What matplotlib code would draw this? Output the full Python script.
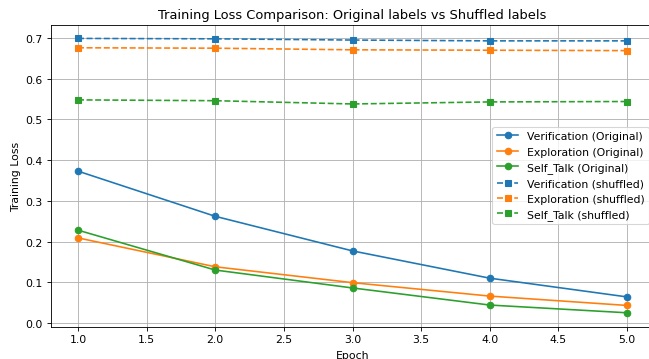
import matplotlib
matplotlib.use('Agg')
import matplotlib.pyplot as plt

epochs = [1, 2, 3, 4, 5]

verification_orig = [0.373, 0.262, 0.177, 0.110, 0.064]
exploration_orig  = [0.209, 0.138, 0.099, 0.066, 0.043]
self_talk_orig    = [0.228, 0.130, 0.086, 0.044, 0.025]

verification_shuf = [0.699, 0.698, 0.695, 0.693, 0.693]
exploration_shuf  = [0.676, 0.675, 0.671, 0.670, 0.669]
self_talk_shuf    = [0.548, 0.546, 0.538, 0.543, 0.544]

# the reference looks like a default plot drawn at a smaller scale, so use dpi 78
dpi = 78
fig = plt.figure(figsize=(649/dpi, 360/dpi), dpi=dpi)
# Axes runs a little past the right edge, like the cropped original.
ax = fig.add_axes([50.5/649, 32.5/360, 604/649, 301.8/360])

ax.plot(epochs, verification_orig, marker='o', color='C0', label='Verification (Original)')
ax.plot(epochs, exploration_orig, marker='o', color='C1', label='Exploration (Original)')
ax.plot(epochs, self_talk_orig, marker='o', color='C2', label='Self_Talk (Original)')
ax.plot(epochs, verification_shuf, marker='s', linestyle='--', color='C0', label='Verification (shuffled)')
ax.plot(epochs, exploration_shuf, marker='s', linestyle='--', color='C1', label='Exploration (shuffled)')
ax.plot(epochs, self_talk_shuf, marker='s', linestyle='--', color='C2', label='Self_Talk (shuffled)')

ax.set_title('Training Loss Comparison: Original labels vs Shuffled labels')
ax.set_xlabel('Epoch', labelpad=5.5)
ax.set_ylabel('Training Loss')
ax.grid(True)
ax.legend(loc='center right')

fig.savefig('out.png', dpi=dpi)
